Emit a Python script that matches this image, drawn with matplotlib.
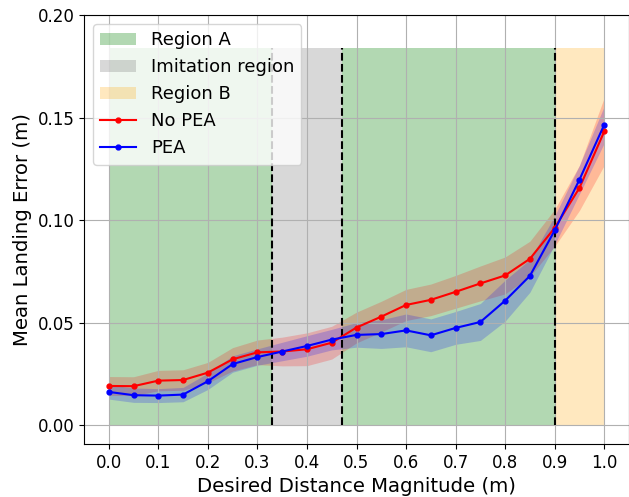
import numpy as np
import matplotlib
matplotlib.use("Agg")
import matplotlib.pyplot as plt

# desired distance magnitudes (m)
dist = [0.0, 0.05, 0.1, 0.15, 0.2, 0.25, 0.3, 0.35, 0.4, 0.45, 0.5,
        0.55, 0.6, 0.65, 0.7, 0.75, 0.8, 0.85, 0.9, 0.95, 1.0]

# mean landing error without PEA and its spread
no_pea = [0.0191, 0.0190, 0.0217, 0.0220, 0.0256, 0.0321, 0.0355, 0.0359, 0.0370, 0.0402, 0.0476,
          0.0529, 0.0586, 0.0611, 0.0650, 0.0691, 0.0730, 0.0811, 0.0962, 0.1157, 0.1432]
no_pea_err = [0.0046, 0.0046, 0.0050, 0.0050, 0.0050, 0.0057, 0.0060, 0.0070, 0.0080, 0.0080, 0.0075,
              0.0075, 0.0076, 0.0077, 0.0080, 0.0085, 0.0090, 0.0086, 0.0090, 0.0110, 0.0165]

# mean landing error with PEA and its spread
pea = [0.0162, 0.0146, 0.0144, 0.0149, 0.0214, 0.0298, 0.0332, 0.0359, 0.0386, 0.0417, 0.0440,
       0.0444, 0.0462, 0.0438, 0.0474, 0.0503, 0.0607, 0.0728, 0.0950, 0.1197, 0.1465]
pea_err = [0.0035, 0.0035, 0.0034, 0.0035, 0.0040, 0.0040, 0.0040, 0.0045, 0.0050, 0.0050, 0.0060,
           0.0070, 0.0080, 0.0080, 0.0080, 0.0090, 0.0100, 0.0080, 0.0070, 0.0070, 0.0090]

# region borders and height
bounds = [0.0, 0.33, 0.47, 0.9, 1.0]
region_top = 0.184

dist = np.array(dist)
no_pea = np.array(no_pea)
pea = np.array(pea)
no_pea_err = np.array(no_pea_err)
pea_err = np.array(pea_err)

fig = plt.figure(figsize=(6.29, 4.97), dpi=100)
ax = fig.add_axes([84 / 629, 1 - 444 / 497, 545 / 629, 429 / 497])

ax.fill_between([bounds[0], bounds[1]], 0, region_top, color='green', alpha=0.3, linewidth=0, label='Region A')
ax.fill_between([bounds[1], bounds[2]], 0, region_top, color='gray', alpha=0.3, linewidth=0, label='Imitation region')
ax.fill_between([bounds[2], bounds[3]], 0, region_top, color='green', alpha=0.3, linewidth=0)
ax.fill_between([bounds[3], bounds[4]], 0, region_top, color='orange', alpha=0.25, linewidth=0, label='Region B')

ax.vlines([bounds[1], bounds[2], bounds[3]], 0, region_top, colors='black', linestyles='dashed', linewidth=1.5)

ax.fill_between(dist, no_pea - no_pea_err, no_pea + no_pea_err, color='red', alpha=0.2, linewidth=0)
ax.fill_between(dist, pea - pea_err, pea + pea_err, color='blue', alpha=0.2, linewidth=0)
ax.plot(dist, no_pea, color='red', marker='o', markersize=3.5, linewidth=1.5, label='No PEA')
ax.plot(dist, pea, color='blue', marker='o', markersize=3.5, linewidth=1.5, label='PEA')

ax.set_xlim(-0.05, 1.05)
ax.set_ylim(-0.0092, 0.2)
ax.set_xticks(np.arange(0, 1.01, 0.1))
ax.set_yticks([0.0, 0.05, 0.1, 0.15, 0.2])
ax.yaxis.set_major_formatter(plt.FormatStrFormatter('%.2f'))
ax.tick_params(labelsize=12)
ax.grid(True)

ax.set_xlabel('Desired Distance Magnitude (m)', fontsize=14.2)
ax.set_ylabel('Mean Landing Error (m)', fontsize=14.2)
ax.legend(loc='upper left', fontsize=13)

fig.savefig('out.png', dpi=100)
